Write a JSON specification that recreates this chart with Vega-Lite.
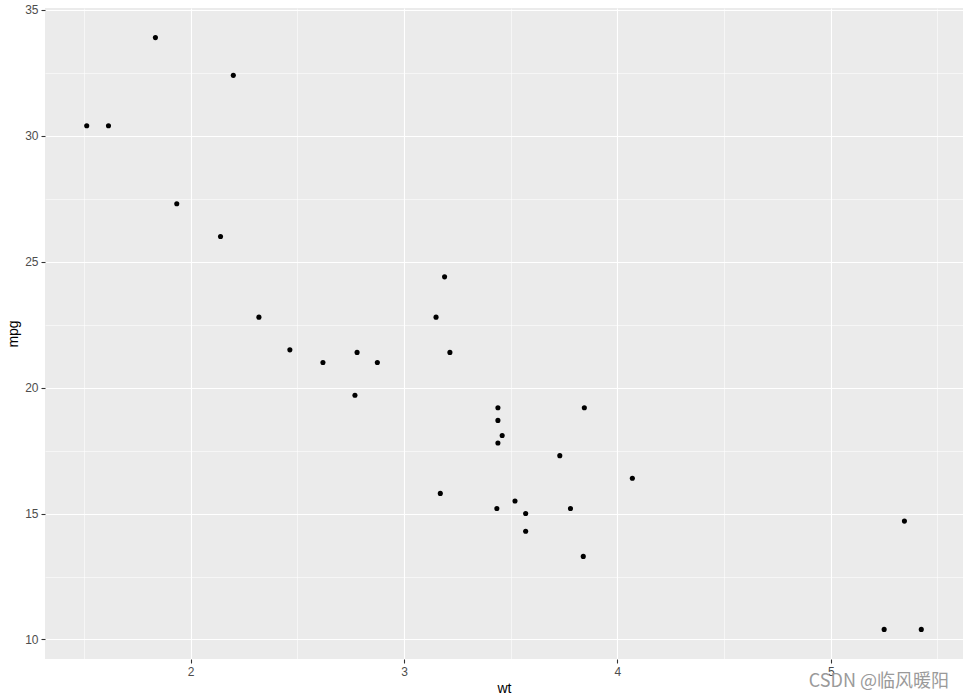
{
  "$schema": "https://vega.github.io/schema/vega-lite/v6.json",
  "width": 918,
  "height": 651,
  "autosize": {"type": "none"},
  "padding": {"left": 45, "top": 8, "right": 0, "bottom": 39},
  "background": "white",
  "config": {
    "view": {"fill": "#EBEBEB", "stroke": null},
    "font": "Liberation Sans"
  },
  "title": {
    "text": "CSDN @临风暖阳",
    "orient": "bottom",
    "anchor": "end",
    "frame": "group",
    "offset": -22,
    "color": "#9a9a9a",
    "fontSize": 18,
    "fontWeight": "normal",
    "font": "Noto Sans CJK SC",
    "dx": -14
  },
  "data": {
    "values": [
      {"model": "Mazda RX4", "wt": 2.62, "mpg": 21.0},
      {"model": "Mazda RX4 Wag", "wt": 2.875, "mpg": 21.0},
      {"model": "Datsun 710", "wt": 2.32, "mpg": 22.8},
      {"model": "Hornet 4 Drive", "wt": 3.215, "mpg": 21.4},
      {"model": "Hornet Sportabout", "wt": 3.44, "mpg": 18.7},
      {"model": "Valiant", "wt": 3.46, "mpg": 18.1},
      {"model": "Duster 360", "wt": 3.57, "mpg": 14.3},
      {"model": "Merc 240D", "wt": 3.19, "mpg": 24.4},
      {"model": "Merc 230", "wt": 3.15, "mpg": 22.8},
      {"model": "Merc 280", "wt": 3.44, "mpg": 19.2},
      {"model": "Merc 280C", "wt": 3.44, "mpg": 17.8},
      {"model": "Merc 450SE", "wt": 4.07, "mpg": 16.4},
      {"model": "Merc 450SL", "wt": 3.73, "mpg": 17.3},
      {"model": "Merc 450SLC", "wt": 3.78, "mpg": 15.2},
      {"model": "Cadillac Fleetwood", "wt": 5.25, "mpg": 10.4},
      {"model": "Lincoln Continental", "wt": 5.424, "mpg": 10.4},
      {"model": "Chrysler Imperial", "wt": 5.345, "mpg": 14.7},
      {"model": "Fiat 128", "wt": 2.2, "mpg": 32.4},
      {"model": "Honda Civic", "wt": 1.615, "mpg": 30.4},
      {"model": "Toyota Corolla", "wt": 1.835, "mpg": 33.9},
      {"model": "Toyota Corona", "wt": 2.465, "mpg": 21.5},
      {"model": "Dodge Challenger", "wt": 3.52, "mpg": 15.5},
      {"model": "AMC Javelin", "wt": 3.435, "mpg": 15.2},
      {"model": "Camaro Z28", "wt": 3.84, "mpg": 13.3},
      {"model": "Pontiac Firebird", "wt": 3.845, "mpg": 19.2},
      {"model": "Fiat X1-9", "wt": 1.935, "mpg": 27.3},
      {"model": "Porsche 914-2", "wt": 2.14, "mpg": 26.0},
      {"model": "Lotus Europa", "wt": 1.513, "mpg": 30.4},
      {"model": "Ford Pantera L", "wt": 3.17, "mpg": 15.8},
      {"model": "Ferrari Dino", "wt": 2.77, "mpg": 19.7},
      {"model": "Maserati Bora", "wt": 3.57, "mpg": 15.0},
      {"model": "Volvo 142E", "wt": 2.78, "mpg": 21.4}
    ]
  },
  "mark": {"type": "point", "filled": true, "color": "black", "opacity": 1, "size": 26},
  "encoding": {
    "x": {
      "field": "wt",
      "type": "quantitative",
      "scale": {"domain": [1.3175, 5.6195], "nice": false, "zero": false},
      "axis": {
        "title": "wt",
        "values": [1.5, 2, 2.5, 3, 3.5, 4, 4.5, 5, 5.5],
        "format": "~g",
        "labelExpr": "datum.value % 1 === 0 ? datum.label : ''",
        "grid": true,
        "gridColor": "white",
        "gridWidth": {"condition": {"test": "datum.value % 1 === 0", "value": 1.1}, "value": 0.55},
        "tickOpacity": {"condition": {"test": "datum.value % 1 === 0", "value": 1}, "value": 0},
        "domain": false,
        "tickColor": "#333333",
        "tickSize": 4,
        "tickWidth": 1.1,
        "labelColor": "#4D4D4D",
        "labelFontSize": 12,
        "labelPadding": 3,
        "labelFont": "Liberation Sans",
        "titleFont": "Liberation Sans",
        "titleFontSize": 14,
        "titleFontWeight": "normal",
        "titleColor": "black",
        "titlePadding": 4
      }
    },
    "y": {
      "field": "mpg",
      "type": "quantitative",
      "scale": {"domain": [9.225, 35.075], "nice": false, "zero": false},
      "axis": {
        "title": "mpg",
        "values": [10, 12.5, 15, 17.5, 20, 22.5, 25, 27.5, 30, 32.5, 35],
        "format": "~g",
        "labelExpr": "datum.value % 5 === 0 ? datum.label : ''",
        "grid": true,
        "gridColor": "white",
        "gridWidth": {"condition": {"test": "datum.value % 5 === 0", "value": 1.1}, "value": 0.55},
        "tickOpacity": {"condition": {"test": "datum.value % 5 === 0", "value": 1}, "value": 0},
        "domain": false,
        "tickColor": "#333333",
        "tickSize": 4,
        "tickWidth": 1.1,
        "labelColor": "#4D4D4D",
        "labelFontSize": 12,
        "labelPadding": 3,
        "labelFont": "Liberation Sans",
        "titleFont": "Liberation Sans",
        "titleFontSize": 14,
        "titleFontWeight": "normal",
        "titleColor": "black",
        "titlePadding": 4
      }
    }
  }
}
